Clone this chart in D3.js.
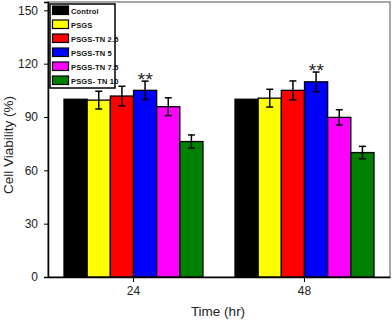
<!DOCTYPE html>
<html>
<head>
<meta charset="utf-8">
<script src="https://cdn.jsdelivr.net/npm/d3@7"></script>
<style>
  body { margin: 0; background: #fff; }
  svg { font-family: "Liberation Sans", Arial, sans-serif; }
</style>
</head>
<body>
<svg id="chart" width="392" height="321"></svg>
<script>
// chart data
let TIMES = ["24", "48"];
let GROUPS = ["Control", "PSGS", "PSGS-TN 2.5", "PSGS-TN 5", "PSGS-TN 7.5", "PSGS- TN 10"];
let COLORS = ["#000000", "#ffff00", "#ff0000", "#0000ff", "#ff00ff", "#008000"];
let VIAB_24 = [100, 99.5, 101.8, 105, 95.8, 76.2];
let ERR_24 = [0, 5, 5.5, 5.2, 5, 3.7];
let VIAB_48 = [100, 100.6, 105, 109.8, 89.8, 70];
let ERR_48 = [0, 5, 5.3, 5.5, 4.3, 3.5];
let Y_TICKS = [0, 30, 60, 90, 120, 150];
let STARS = { "24": "PSGS-TN 5", "48": "PSGS-TN 5" };

let svg = d3.select("#chart");
let plotLeft = 48, plotRight = 390, plotTop = 2, plotBottom = 277;

let x = d3.scaleBand().domain(TIMES).range([plotLeft, plotRight]).padding(0);
let inner = d3.scaleBand().domain(GROUPS).range([-69.5, 69.5]).padding(0);
let y = d3.scaleLinear().domain([0, 154.7]).range([plotBottom, plotTop]);

let data = [];
TIMES.forEach((t, ti) => {
    let vals = ti == 0 ? VIAB_24 : VIAB_48;
    let errs = ti == 0 ? ERR_24 : ERR_48;
    for (let i = 0; i < GROUPS.length; i++) {
        data.push({ time: t, group: GROUPS[i], value: vals[i], err: errs[i], color: COLORS[i] });
    }
});

// frame (top/right in grey)
svg.append("rect")
    .attr("x", plotLeft).attr("y", plotTop)
    .attr("width", plotRight - plotLeft).attr("height", plotBottom - plotTop)
    .attr("fill", "none").attr("stroke", "#8a8a8a").attr("stroke-width", 1.5);

let cx = d => x(d.time) + x.bandwidth() / 2 + inner(d.group);

svg.append("g").selectAll("rect")
    .data(data).enter().append("rect")
    .attr("x", d => cx(d))
    .attr("y", d => y(d.value))
    .attr("width", inner.bandwidth())
    .attr("height", d => y(0) - y(d.value))
    .attr("fill", d => d.color)
    .attr("stroke", "#000").attr("stroke-width", 1.3);

// error bars
let eb = svg.append("g").attr("stroke", "#000").attr("stroke-width", 1.5);
data.filter(d => d.err > 0).forEach(d => {
    let mx = cx(d) + inner.bandwidth() / 2;
    eb.append("line").attr("x1", mx).attr("x2", mx).attr("y1", y(d.value + d.err)).attr("y2", y(d.value - d.err));
    eb.append("line").attr("x1", mx - 3.5).attr("x2", mx + 3.5).attr("y1", y(d.value + d.err)).attr("y2", y(d.value + d.err));
    eb.append("line").attr("x1", mx - 3.5).attr("x2", mx + 3.5).attr("y1", y(d.value - d.err)).attr("y2", y(d.value - d.err));
});

// significance stars
data.filter(d => STARS[d.time] == d.group).forEach(d => {
    svg.append("text")
        .attr("x", cx(d) + inner.bandwidth() / 2 + 0.5)
        .attr("y", y(d.value + d.err) + 5)
        .attr("text-anchor", "middle")
        .attr("font-size", 19).attr("letter-spacing", 0.5).attr("fill", "#222")
        .text("**");
});

// axes
let yAxis = d3.axisLeft(y).tickValues(Y_TICKS).tickSize(4).tickPadding(6);
let gy = svg.append("g").attr("transform", `translate(${plotLeft},0)`).call(yAxis);
gy.select(".domain").attr("stroke-width", 1.5);
gy.selectAll("text").attr("font-size", 12).attr("fill", "#222").attr("font-family", "Liberation Sans");

let xAxis = d3.axisBottom(x).tickSize(5).tickPadding(4).tickSizeOuter(0);
let gx = svg.append("g").attr("transform", `translate(0,${plotBottom})`).call(xAxis);
gx.select(".domain").attr("stroke-width", 1.5);
gx.selectAll("text").attr("font-size", 12).attr("fill", "#222").attr("font-family", "Liberation Sans");

svg.append("text")
    .attr("transform", "translate(13,145) rotate(-90)")
    .attr("text-anchor", "middle").attr("font-size", 13.5).attr("fill", "#222")
    .text("Cell Viability (%)");
svg.append("text")
    .attr("x", 218).attr("y", 316)
    .attr("text-anchor", "middle").attr("font-size", 13.5).attr("fill", "#222")
    .text("Time (hr)");

// legend
let lg = svg.append("g");
lg.append("rect").attr("x", 50).attr("y", 4).attr("width", 65).attr("height", 84)
    .attr("fill", "#fff").attr("stroke", "#000").attr("stroke-width", 1.5);
GROUPS.forEach((g, i) => {
    let ly = 6 + i * 14;
    lg.append("rect").attr("x", 52.5).attr("y", ly).attr("width", 16).attr("height", 8.5)
        .attr("fill", COLORS[i]).attr("stroke", "#000").attr("stroke-width", 1.2);
    lg.append("text").attr("x", 71).attr("y", ly + 7.5)
        .attr("font-size", 7.5).attr("font-weight", "bold").attr("letter-spacing", 0.15).attr("fill", "#111")
        .text(g);
});
</script>
</body>
</html>
